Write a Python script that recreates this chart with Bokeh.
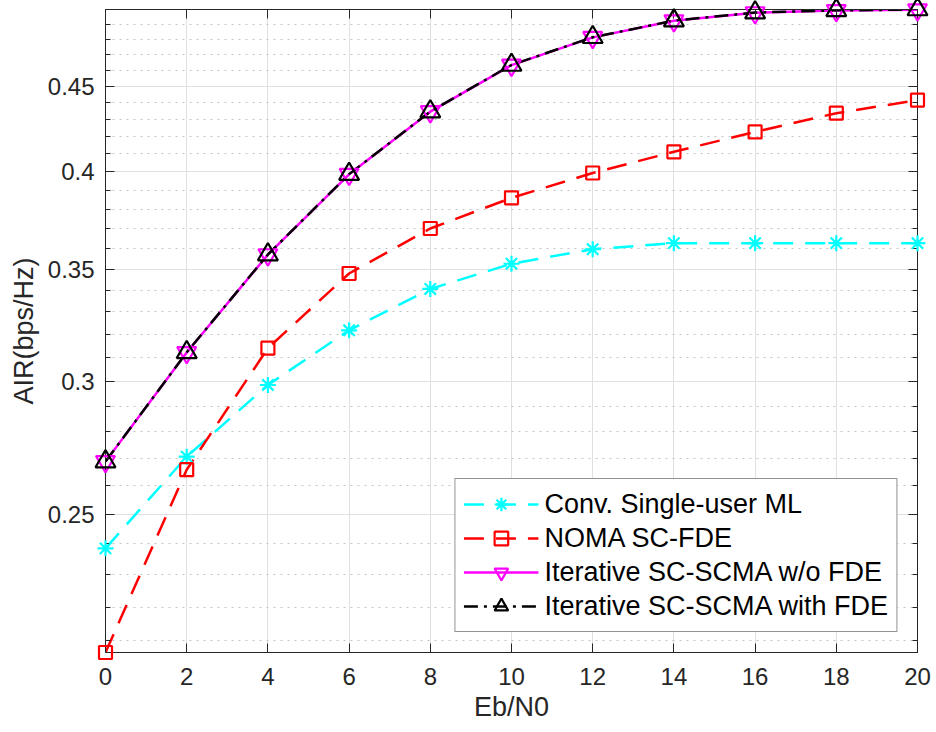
from bokeh.plotting import figure
from bokeh.models import Range1d, FixedTicker, LinearAxis, LogAxis, Legend, LegendItem
from bokeh.embed import file_html
from bokeh.resources import INLINE

# ---------------- data ----------------
eb_n0 = [0, 2, 4, 6, 8, 10, 12, 14, 16, 18, 20]
conv_ml = [0.2385, 0.2705, 0.2985, 0.3218, 0.3406, 0.3526, 0.3597, 0.3627, 0.3627, 0.3627, 0.3627]
noma_fde = [0.2067, 0.2657, 0.3140, 0.3479, 0.3701, 0.3860, 0.3994, 0.4112, 0.4226, 0.4336, 0.4415]
iter_wo = [0.2687, 0.3121, 0.3570, 0.3987, 0.4345, 0.4632, 0.4812, 0.4923, 0.4978, 0.4993, 0.4998]
iter_with = [0.2687, 0.3122, 0.3571, 0.3988, 0.4346, 0.4633, 0.4813, 0.4924, 0.4979, 0.4994, 0.5000]

x_ticks = [0, 2, 4, 6, 8, 10, 12, 14, 16, 18, 20]
y_ticks = [0.25, 0.3, 0.35, 0.4, 0.45]
y_tick_labels = ["0.25", "0.3", "0.35", "0.4", "0.45"]
y_minor = [0.21, 0.22, 0.23, 0.24, 0.26, 0.27, 0.28, 0.29, 0.31, 0.32, 0.33, 0.34,
           0.36, 0.37, 0.38, 0.39, 0.41, 0.42, 0.43, 0.44, 0.46, 0.47, 0.48, 0.49]
y_lo, y_hi = 0.2067, 0.5
x_lo, x_hi = 0, 20

series_names = ["Conv. Single-user ML", "NOMA SC-FDE",
                "Iterative SC-SCMA w/o FDE", "Iterative SC-SCMA with FDE"]

FONT = "Liberation Sans"
AX = "#262626"

p = figure(width=932, height=731, y_axis_type="log",
           x_range=Range1d(x_lo, x_hi), y_range=Range1d(y_lo, y_hi),
           output_backend="svg", toolbar_location=None,
           min_border_left=105, min_border_right=15, min_border_top=9, min_border_bottom=79,
           background_fill_color="white", border_fill_color="white")
p.outline_line_color = AX
p.outline_line_width = 1

# tickers
p.xaxis.ticker = FixedTicker(ticks=x_ticks, minor_ticks=[])
p.yaxis.ticker = FixedTicker(ticks=y_ticks, minor_ticks=y_minor)
p.yaxis.major_label_overrides = {t: s for t, s in zip(y_ticks, y_tick_labels)}

p.xaxis.axis_label = "Eb/N0"
p.yaxis.axis_label = "AIR(bps/Hz)"

def style_axis(ax, labels=True):
    ax.axis_line_color = AX
    ax.axis_line_width = 1
    ax.major_tick_line_color = AX
    ax.minor_tick_line_color = AX
    ax.major_tick_in = 9
    ax.major_tick_out = 0
    ax.minor_tick_in = 5
    ax.minor_tick_out = 0
    ax.major_label_text_font = FONT
    ax.axis_label_text_font = FONT
    ax.axis_label_text_color = AX
    ax.axis_label_text_font_style = "normal"
    ax.axis_label_text_font_size = "27px"
    if labels:
        ax.major_label_text_font_size = "24px"
        ax.major_label_text_color = AX
    else:
        ax.major_label_text_font_size = "1px"
        ax.major_label_text_color = None
        ax.major_label_standoff = 0

for ax in p.xaxis:
    style_axis(ax)
    ax.major_label_standoff = 15
    ax.axis_label_standoff = 4
for ax in p.yaxis:
    style_axis(ax)
    ax.major_label_standoff = 11
    ax.axis_label_standoff = 6

top_ax = LinearAxis(ticker=FixedTicker(ticks=x_ticks, minor_ticks=[]))
style_axis(top_ax, labels=False)
p.add_layout(top_ax, "above")
right_ax = LogAxis(ticker=FixedTicker(ticks=y_ticks, minor_ticks=y_minor))
style_axis(right_ax, labels=False)
p.add_layout(right_ax, "right")

# grids
p.xgrid.grid_line_color = "#e0e0e0"
p.xgrid.grid_line_width = 1
p.ygrid.grid_line_color = "#e0e0e0"
p.ygrid.grid_line_width = 1
p.ygrid.minor_grid_line_color = "#c4c4c4"
p.ygrid.minor_grid_line_dash = "2 5"
p.ygrid.minor_grid_line_width = 1

# series
items = []
l1 = p.line(eb_n0, conv_ml, line_color="#00FFFF", line_width=2.5, line_dash="20 12")
m1 = p.scatter(eb_n0, conv_ml, marker="asterisk", size=16, line_color="#00FFFF",
               line_width=2.2, level="overlay")
items.append(LegendItem(label=series_names[0], renderers=[l1, m1]))

l2 = p.line(eb_n0, noma_fde, line_color="#FF0000", line_width=2.5, line_dash="20 12")
m2 = p.scatter(eb_n0, noma_fde, marker="square", size=13, line_color="#FF0000",
               line_width=2.2, fill_alpha=0, level="overlay")
items.append(LegendItem(label=series_names[1], renderers=[l2, m2]))

l3 = p.line(eb_n0, iter_wo, line_color="#FF00FF", line_width=2.5)
m3 = p.scatter(eb_n0, iter_wo, marker="inverted_triangle", size=19, line_color="#FF00FF",
               line_width=2.2, fill_alpha=0, level="overlay")
items.append(LegendItem(label=series_names[2], renderers=[l3, m3]))

l4 = p.line(eb_n0, iter_with, line_color="black", line_width=2.5, line_dash="14 6 3 6")
m4 = p.scatter(eb_n0, iter_with, marker="triangle", size=20, line_color="black",
               line_width=2.2, fill_alpha=0, level="overlay")
items.append(LegendItem(label=series_names[3], renderers=[l4, m4]))

legend = Legend(items=items, location="bottom_right", margin=20,
                border_line_color=AX, border_line_width=1,
                background_fill_color="white", background_fill_alpha=1,
                label_text_font=FONT, label_text_font_size="27px", label_text_color="black",
                glyph_width=75, glyph_height=34, label_height=34, label_standoff=6,
                padding=8, spacing=0)
p.add_layout(legend)

open("out.html", "w").write(file_html(p, INLINE))
